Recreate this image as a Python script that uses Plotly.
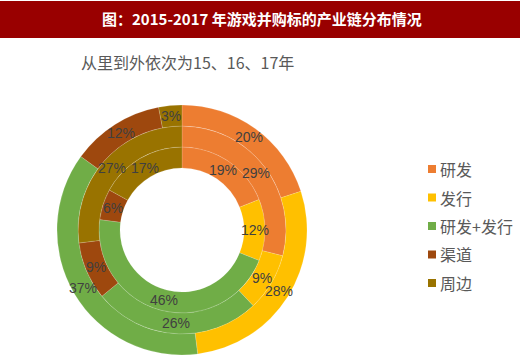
import math
import plotly.graph_objects as go

categories = ["研发", "发行", "研发+发行", "渠道", "周边"]
years = ["2015", "2016", "2017"]
values_2015 = [19, 12, 46, 6, 17]
values_2016 = [29, 9, 26, 9, 27]
values_2017 = [20, 28, 37, 12, 3]
colors = ["#ED7D31", "#FFC000", "#70AD47", "#9E480E", "#997300"]

title_text = "图：2015-2017 年游戏并购标的产业链分布情况"
subtitle_text = "从里到外依次为15、16、17年"

W, H = 520, 359
cx, cy = 182, 230          # pie centre in pixels (from top-left)
radii = [83, 104, 125]      # outer radius of each ring (inner -> outer)
hole_r = 62


def px(x):
    return x / W


def py(y):
    return 1 - y / H


fig = go.Figure()
series = [values_2015, values_2016, values_2017]
annotations = []
inner = hole_r
for yr, vals, r in zip(years, series, radii):
    fig.add_trace(go.Pie(
        labels=categories,
        values=vals,
        name=yr,
        sort=False,
        direction="clockwise",
        rotation=0,
        hole=inner / r,
        domain=dict(x=[px(cx - r), px(cx + r)], y=[py(cy + r), py(cy - r)]),
        marker=dict(colors=colors, line=dict(color="rgba(255,255,255,0.3)", width=0.5)),
        textinfo="none",
        hoverinfo="label+value",
        showlegend=False,
    ))
    # data labels at slice centre (mid angle, mid ring radius)
    total = sum(vals)
    rm = (inner + r) / 2
    cum = 0
    for v in vals:
        mid = (cum + v / 2) / total * 2 * math.pi
        cum += v
        lx = cx + rm * math.sin(mid)
        ly = cy - rm * math.cos(mid)
        annotations.append(dict(xref="paper", yref="paper", x=px(lx), y=py(ly),
                                text=f"{v}%", showarrow=False,
                                xanchor="center", yanchor="middle",
                                font=dict(family="Liberation Sans, Arial", size=14, color="#404040")))
    inner = r

shapes = []

# header band
shapes.append(dict(type="rect", xref="paper", yref="paper",
                   x0=0, x1=1, y0=py(38), y1=py(1),
                   fillcolor="#990000", line=dict(width=0), layer="above"))
annotations.append(dict(xref="paper", yref="paper", x=px(262), y=py(18),
                        text="<b>" + title_text + "</b>", showarrow=False,
                        xanchor="center", yanchor="middle",
                        font=dict(family="Noto Sans CJK SC", size=15, color="white")))
# subtitle
annotations.append(dict(xref="paper", yref="paper", x=px(79), y=py(62),
                        text=subtitle_text, showarrow=False,
                        xanchor="left", yanchor="middle",
                        font=dict(family="Noto Sans CJK SC", size=16, color="#595959")))

# custom legend
leg_x = 428
leg_y0 = 169
leg_dy = 28.5
sq = 8
for i, (cat, col) in enumerate(zip(categories, colors)):
    yy = leg_y0 + i * leg_dy
    shapes.append(dict(type="rect", xref="paper", yref="paper",
                       x0=px(leg_x), x1=px(leg_x + sq),
                       y0=py(yy + sq / 2), y1=py(yy - sq / 2),
                       fillcolor=col, line=dict(width=0)))
    annotations.append(dict(xref="paper", yref="paper", x=px(leg_x + sq + 2), y=py(yy),
                            text=cat, showarrow=False, xanchor="left", yanchor="middle",
                            font=dict(family="Noto Sans CJK SC", size=16, color="#595959")))

fig.update_layout(
    width=W, height=H,
    margin=dict(l=0, r=0, t=0, b=0),
    paper_bgcolor="white",
    plot_bgcolor="white",
    shapes=shapes,
    annotations=annotations,
    showlegend=False,
)

fig.write_html("out.html", config={"displayModeBar": False},
               post_script="document.body.style.margin='0px';")
